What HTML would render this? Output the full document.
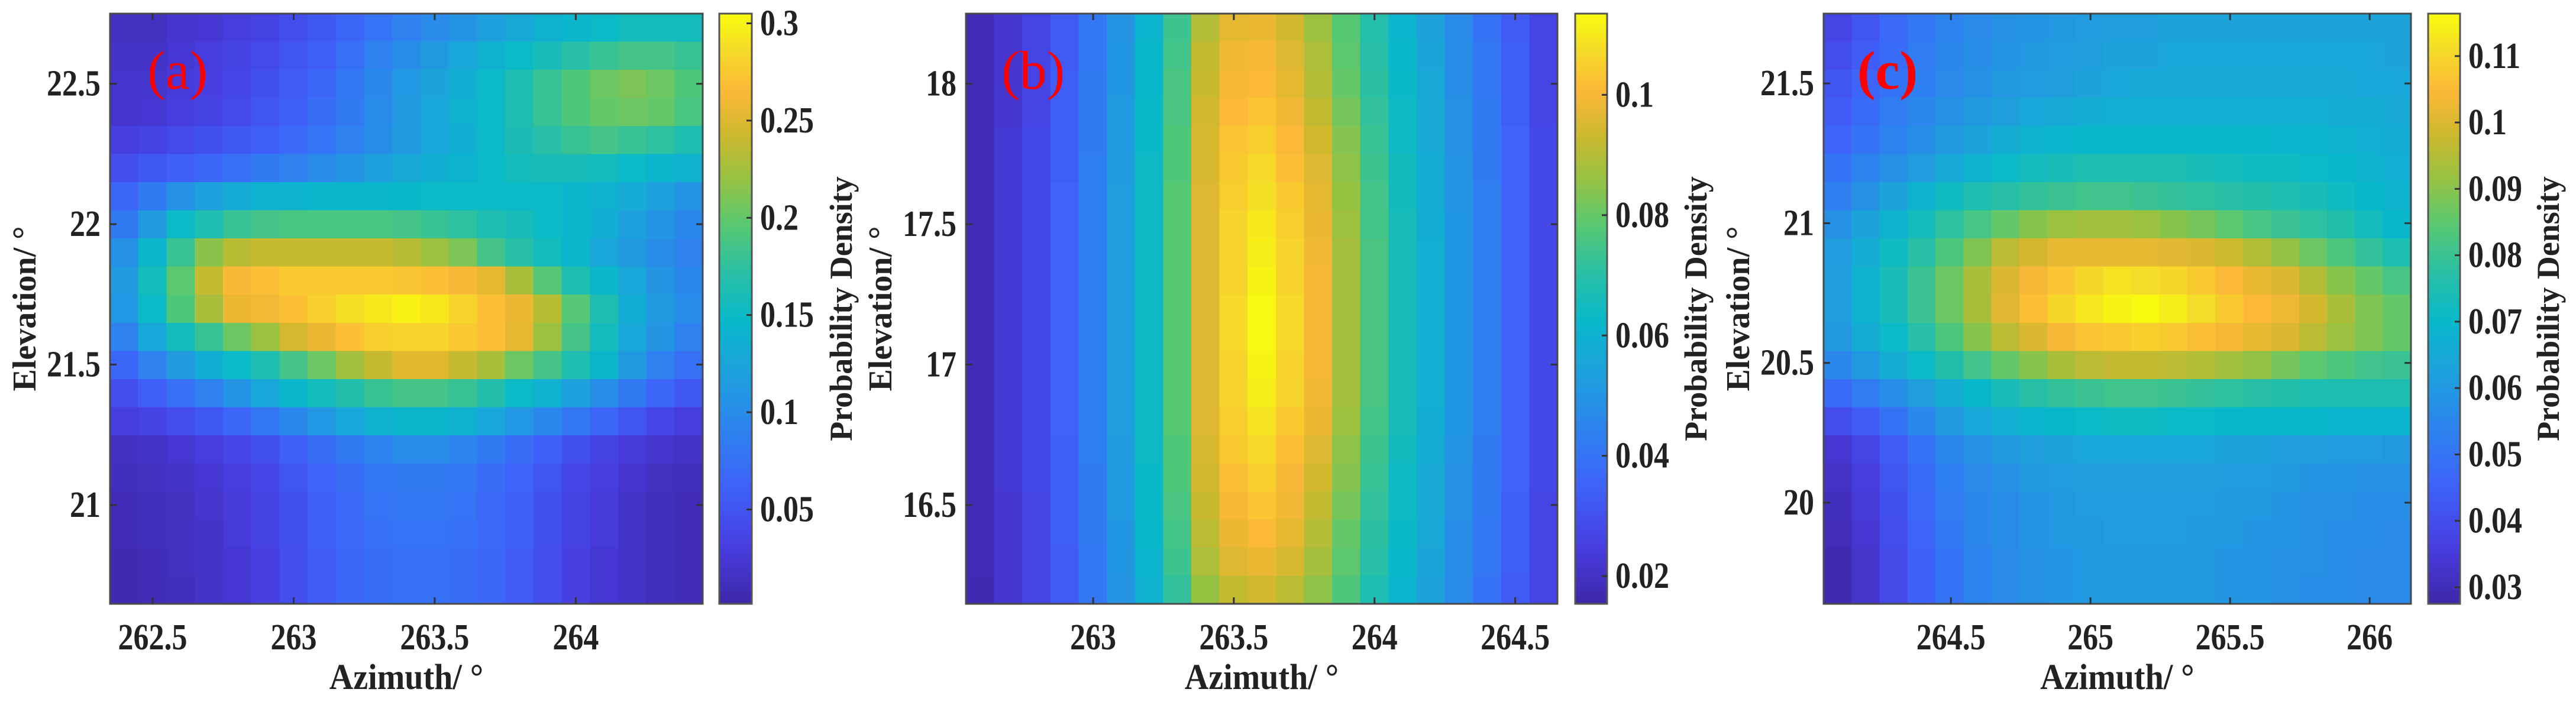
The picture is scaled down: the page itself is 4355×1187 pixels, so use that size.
<!DOCTYPE html>
<html><head><meta charset="utf-8">
<style>
html,body{margin:0;padding:0;background:#fff;}
svg{display:block;}
text{font-family:"Liberation Serif",serif;}
</style></head>
<body>
<svg id="fig" width="4355" height="1187" viewBox="0 0 4355 1187" xmlns="http://www.w3.org/2000/svg"></svg>
<script>
// ---------- Panel (a) data: rows top (high elevation) to bottom ----------
const aXTicks = [262.5, 263, 263.5, 264];
const aYTicks = [21, 21.5, 22, 22.5];
const aCTicks = [0.05, 0.1, 0.15, 0.2, 0.25, 0.3];
const aValues = [
[0.015,0.015,0.021,0.024,0.03,0.036,0.045,0.054,0.066,0.078,0.09,0.099,0.108,0.12,0.129,0.138,0.144,0.15,0.156,0.156,0.156],
[0.018,0.018,0.024,0.03,0.036,0.042,0.051,0.06,0.075,0.09,0.102,0.114,0.126,0.138,0.15,0.159,0.171,0.18,0.186,0.186,0.18],
[0.021,0.021,0.027,0.033,0.039,0.048,0.057,0.066,0.081,0.096,0.111,0.123,0.135,0.15,0.165,0.18,0.192,0.204,0.21,0.204,0.192],
[0.021,0.024,0.03,0.036,0.042,0.051,0.06,0.072,0.084,0.099,0.114,0.126,0.138,0.15,0.165,0.18,0.192,0.201,0.204,0.201,0.189],
[0.03,0.036,0.042,0.048,0.054,0.06,0.069,0.078,0.09,0.102,0.114,0.126,0.135,0.15,0.162,0.171,0.18,0.186,0.18,0.174,0.165],
[0.045,0.054,0.06,0.066,0.075,0.084,0.09,0.099,0.108,0.12,0.129,0.135,0.141,0.15,0.156,0.159,0.159,0.156,0.15,0.144,0.138],
[0.066,0.084,0.105,0.12,0.132,0.138,0.141,0.144,0.144,0.144,0.147,0.15,0.15,0.15,0.15,0.15,0.144,0.138,0.132,0.12,0.108],
[0.084,0.114,0.15,0.165,0.18,0.186,0.189,0.189,0.189,0.189,0.186,0.18,0.174,0.165,0.159,0.15,0.144,0.135,0.12,0.108,0.096],
[0.105,0.144,0.18,0.216,0.234,0.24,0.24,0.24,0.24,0.24,0.234,0.222,0.21,0.186,0.171,0.156,0.144,0.126,0.114,0.102,0.09],
[0.114,0.156,0.198,0.24,0.264,0.27,0.276,0.276,0.276,0.276,0.273,0.27,0.264,0.255,0.228,0.195,0.165,0.144,0.126,0.108,0.096],
[0.111,0.15,0.192,0.228,0.258,0.261,0.27,0.279,0.288,0.294,0.3,0.294,0.282,0.27,0.258,0.234,0.195,0.165,0.135,0.114,0.099],
[0.09,0.126,0.156,0.18,0.204,0.222,0.246,0.258,0.27,0.279,0.282,0.282,0.276,0.27,0.255,0.222,0.186,0.156,0.126,0.108,0.09],
[0.066,0.09,0.114,0.135,0.15,0.165,0.186,0.204,0.225,0.24,0.252,0.252,0.24,0.228,0.204,0.186,0.165,0.144,0.114,0.09,0.075],
[0.045,0.06,0.075,0.09,0.108,0.126,0.144,0.156,0.168,0.18,0.186,0.186,0.18,0.168,0.15,0.138,0.12,0.102,0.084,0.066,0.054],
[0.03,0.036,0.045,0.054,0.066,0.081,0.096,0.111,0.126,0.138,0.144,0.144,0.138,0.126,0.111,0.096,0.081,0.066,0.051,0.039,0.03],
[0.015,0.018,0.024,0.03,0.039,0.048,0.06,0.072,0.084,0.093,0.099,0.099,0.093,0.084,0.072,0.06,0.048,0.036,0.027,0.021,0.018],
[0.012,0.015,0.018,0.024,0.03,0.039,0.051,0.063,0.072,0.081,0.084,0.084,0.081,0.072,0.063,0.051,0.039,0.03,0.021,0.015,0.012],
[0.009,0.012,0.015,0.021,0.027,0.036,0.048,0.06,0.069,0.078,0.081,0.081,0.078,0.069,0.06,0.048,0.036,0.027,0.018,0.012,0.009],
[0.009,0.012,0.015,0.018,0.027,0.036,0.048,0.06,0.069,0.075,0.078,0.078,0.075,0.069,0.06,0.048,0.036,0.027,0.018,0.012,0.009],
[0.006,0.009,0.015,0.018,0.024,0.033,0.045,0.057,0.066,0.072,0.075,0.075,0.072,0.066,0.057,0.045,0.033,0.024,0.018,0.012,0.009],
[0.006,0.009,0.012,0.018,0.024,0.033,0.045,0.057,0.066,0.072,0.075,0.075,0.072,0.066,0.057,0.045,0.033,0.024,0.018,0.012,0.009]
];
// ---------- Panel (b) data ----------
const bXTicks = [263, 263.5, 264, 264.5];
const bYTicks = [16.5, 17, 17.5, 18];
const bCTicks = [0.02, 0.04, 0.06, 0.08, 0.1];
const bValues = [
[0.018,0.022,0.027,0.033,0.041,0.050,0.061,0.074,0.090,0.097,0.098,0.094,0.087,0.078,0.069,0.061,0.054,0.047,0.040,0.033,0.027],
[0.018,0.022,0.027,0.033,0.041,0.051,0.062,0.075,0.092,0.099,0.100,0.096,0.089,0.079,0.070,0.062,0.055,0.048,0.041,0.034,0.027],
[0.018,0.022,0.027,0.034,0.042,0.051,0.062,0.076,0.093,0.100,0.101,0.097,0.090,0.080,0.071,0.063,0.056,0.048,0.041,0.034,0.027],
[0.018,0.022,0.027,0.034,0.042,0.052,0.063,0.076,0.094,0.101,0.103,0.099,0.092,0.082,0.072,0.064,0.057,0.049,0.042,0.034,0.027],
[0.018,0.023,0.028,0.034,0.042,0.052,0.063,0.077,0.095,0.103,0.105,0.101,0.094,0.084,0.073,0.064,0.057,0.049,0.042,0.035,0.028],
[0.018,0.023,0.028,0.034,0.043,0.052,0.064,0.077,0.095,0.104,0.107,0.102,0.096,0.085,0.074,0.065,0.058,0.050,0.042,0.035,0.028],
[0.018,0.023,0.028,0.035,0.043,0.053,0.064,0.078,0.096,0.105,0.108,0.104,0.097,0.086,0.075,0.065,0.058,0.050,0.043,0.035,0.028],
[0.018,0.023,0.028,0.035,0.043,0.053,0.064,0.078,0.096,0.106,0.110,0.105,0.098,0.087,0.075,0.066,0.058,0.051,0.043,0.035,0.028],
[0.018,0.023,0.028,0.035,0.043,0.053,0.064,0.078,0.096,0.106,0.111,0.106,0.099,0.088,0.076,0.066,0.059,0.051,0.043,0.035,0.028],
[0.018,0.023,0.028,0.035,0.043,0.053,0.064,0.078,0.096,0.106,0.112,0.106,0.100,0.088,0.076,0.066,0.059,0.051,0.043,0.035,0.028],
[0.018,0.023,0.028,0.035,0.043,0.053,0.064,0.078,0.096,0.107,0.113,0.107,0.100,0.088,0.076,0.066,0.059,0.051,0.043,0.035,0.028],
[0.018,0.023,0.028,0.035,0.043,0.053,0.064,0.078,0.096,0.107,0.113,0.107,0.100,0.088,0.076,0.066,0.059,0.051,0.043,0.035,0.028],
[0.018,0.023,0.028,0.035,0.043,0.053,0.064,0.078,0.096,0.106,0.112,0.106,0.100,0.088,0.076,0.066,0.059,0.051,0.043,0.035,0.028],
[0.018,0.023,0.028,0.035,0.043,0.053,0.064,0.078,0.096,0.106,0.111,0.106,0.099,0.088,0.076,0.066,0.059,0.051,0.043,0.035,0.028],
[0.018,0.023,0.028,0.035,0.043,0.053,0.064,0.078,0.096,0.105,0.109,0.104,0.098,0.087,0.075,0.066,0.058,0.051,0.043,0.035,0.028],
[0.018,0.023,0.028,0.034,0.043,0.052,0.064,0.077,0.095,0.104,0.107,0.102,0.096,0.085,0.074,0.065,0.058,0.050,0.042,0.035,0.028],
[0.018,0.023,0.028,0.034,0.042,0.052,0.063,0.077,0.094,0.102,0.105,0.100,0.094,0.084,0.073,0.064,0.057,0.049,0.042,0.035,0.028],
[0.018,0.022,0.027,0.034,0.042,0.052,0.063,0.076,0.093,0.100,0.103,0.099,0.092,0.082,0.072,0.064,0.057,0.049,0.042,0.034,0.027],
[0.018,0.022,0.027,0.034,0.042,0.051,0.062,0.075,0.091,0.098,0.101,0.097,0.090,0.080,0.071,0.063,0.056,0.048,0.041,0.034,0.027],
[0.018,0.022,0.027,0.033,0.041,0.051,0.061,0.074,0.089,0.096,0.098,0.095,0.088,0.079,0.070,0.062,0.055,0.048,0.041,0.034,0.027],
[0.017,0.022,0.027,0.033,0.041,0.050,0.060,0.072,0.086,0.092,0.094,0.091,0.085,0.077,0.068,0.061,0.054,0.047,0.040,0.033,0.027]
];
// ---------- Panel (c) data ----------
const cXTicks = [264.5, 265, 265.5, 266];
const cYTicks = [20, 20.5, 21, 21.5];
const cCTicks = [0.03, 0.04, 0.05, 0.06, 0.07, 0.08, 0.09, 0.1, 0.11];
const cValues = [
[0.038,0.042,0.047,0.051,0.054,0.056,0.058,0.059,0.060,0.061,0.062,0.062,0.063,0.063,0.063,0.063,0.063,0.063,0.063,0.063,0.063],
[0.040,0.044,0.048,0.052,0.055,0.057,0.059,0.060,0.061,0.062,0.063,0.063,0.064,0.064,0.064,0.064,0.064,0.064,0.064,0.064,0.063],
[0.042,0.046,0.050,0.053,0.056,0.058,0.060,0.061,0.062,0.063,0.064,0.065,0.065,0.065,0.065,0.065,0.065,0.065,0.065,0.064,0.064],
[0.044,0.048,0.052,0.055,0.058,0.060,0.062,0.064,0.065,0.066,0.067,0.067,0.067,0.067,0.067,0.067,0.067,0.067,0.066,0.066,0.065],
[0.046,0.050,0.054,0.057,0.060,0.063,0.066,0.068,0.069,0.070,0.070,0.070,0.070,0.070,0.070,0.070,0.069,0.069,0.068,0.067,0.066],
[0.050,0.054,0.058,0.061,0.065,0.068,0.071,0.073,0.074,0.075,0.075,0.075,0.075,0.074,0.073,0.072,0.072,0.071,0.070,0.068,0.067],
[0.053,0.058,0.063,0.068,0.072,0.075,0.077,0.079,0.080,0.081,0.081,0.080,0.079,0.078,0.077,0.076,0.075,0.074,0.072,0.070,0.068],
[0.058,0.063,0.068,0.073,0.078,0.082,0.086,0.090,0.092,0.093,0.093,0.092,0.090,0.088,0.085,0.082,0.080,0.078,0.076,0.073,0.070],
[0.061,0.066,0.072,0.077,0.083,0.089,0.096,0.099,0.102,0.102,0.102,0.102,0.101,0.100,0.098,0.095,0.091,0.087,0.083,0.079,0.075],
[0.062,0.068,0.074,0.080,0.087,0.094,0.100,0.104,0.107,0.110,0.112,0.111,0.110,0.108,0.105,0.102,0.100,0.095,0.090,0.086,0.082],
[0.062,0.068,0.074,0.080,0.087,0.094,0.101,0.106,0.110,0.113,0.115,0.116,0.114,0.111,0.108,0.105,0.103,0.099,0.094,0.089,0.086],
[0.060,0.066,0.071,0.077,0.083,0.090,0.096,0.100,0.104,0.107,0.108,0.109,0.108,0.106,0.104,0.102,0.100,0.096,0.092,0.089,0.086],
[0.055,0.060,0.066,0.071,0.076,0.081,0.086,0.090,0.094,0.096,0.097,0.097,0.096,0.095,0.093,0.091,0.088,0.085,0.083,0.081,0.080],
[0.048,0.052,0.057,0.062,0.066,0.070,0.074,0.077,0.079,0.080,0.081,0.081,0.080,0.079,0.078,0.077,0.076,0.075,0.075,0.075,0.075],
[0.040,0.044,0.050,0.055,0.060,0.064,0.067,0.069,0.070,0.071,0.072,0.072,0.071,0.071,0.070,0.070,0.070,0.070,0.069,0.069,0.069],
[0.034,0.038,0.044,0.050,0.055,0.058,0.060,0.062,0.063,0.064,0.064,0.064,0.064,0.064,0.063,0.063,0.062,0.062,0.061,0.061,0.060],
[0.032,0.036,0.042,0.048,0.053,0.056,0.058,0.060,0.061,0.062,0.062,0.062,0.062,0.062,0.061,0.061,0.060,0.059,0.059,0.058,0.058],
[0.031,0.035,0.041,0.047,0.052,0.055,0.057,0.059,0.060,0.061,0.061,0.061,0.061,0.061,0.060,0.060,0.059,0.058,0.058,0.057,0.057],
[0.030,0.034,0.040,0.046,0.051,0.055,0.057,0.059,0.060,0.060,0.061,0.061,0.061,0.060,0.060,0.059,0.059,0.058,0.057,0.057,0.056],
[0.029,0.033,0.039,0.045,0.050,0.054,0.056,0.058,0.059,0.060,0.060,0.060,0.060,0.060,0.059,0.059,0.058,0.058,0.057,0.056,0.056],
[0.029,0.033,0.039,0.045,0.050,0.054,0.056,0.058,0.059,0.060,0.060,0.060,0.060,0.060,0.059,0.059,0.058,0.057,0.057,0.056,0.056]
];

const NS = "http://www.w3.org/2000/svg";
const svg = document.getElementById('fig');
const STOPS = [
 [0.00,[62,38,168]],[0.10,[71,62,225]],[0.20,[62,98,250]],[0.30,[44,132,238]],
 [0.40,[28,163,218]],[0.48,[8,184,202]],[0.56,[40,191,166]],[0.64,[86,200,115]],
 [0.72,[150,194,66]],[0.80,[208,184,44]],[0.87,[252,184,56]],[0.94,[245,220,40]],[1.00,[249,251,14]]
];
function parula(t){
  t = Math.max(0, Math.min(1, t));
  for (let i = 1; i < STOPS.length; i++) {
    if (t <= STOPS[i][0]) {
      const a = STOPS[i-1], b = STOPS[i];
      const f = (t - a[0]) / (b[0] - a[0]);
      const c = a[1].map((v, k) => Math.round(v + (b[1][k] - v) * f));
      return `rgb(${c[0]},${c[1]},${c[2]})`;
    }
  }
  return 'rgb(249,251,14)';
}
function mk(tag, attrs, parent){
  const e = document.createElementNS(NS, tag);
  for (const k in attrs) e.setAttribute(k, attrs[k]);
  (parent || svg).appendChild(e);
  return e;
}
const SY = 1.2;
function stretch(y, s){ return `translate(0 ${y}) scale(1 ${s}) translate(0 ${-y})`; }

function panel(cfg){
  const g = mk('g', {});
  
  
  const xS = v => cfg.px0 + (v - cfg.xmin) / (cfg.xmax - cfg.xmin) * (cfg.px1 - cfg.px0);
  const yS = v => cfg.py1 - (v - cfg.ymin) / (cfg.ymax - cfg.ymin) * (cfg.py1 - cfg.py0);
  const cS = v => cfg.py1 - (v - cfg.cmin) / (cfg.cmax - cfg.cmin) * (cfg.py1 - cfg.py0);
  const rows = cfg.values.length, cols = cfg.values[0].length;
  const dx = (cfg.xmax - cfg.xmin) / cols, dy = (cfg.ymax - cfg.ymin) / rows;
  const hg = mk('g', {'shape-rendering':'crispEdges'}, g);
  
  
  for (let r = 0; r < rows; r++) {
    for (let c = 0; c < cols; c++) {
      const v = cfg.values[r][c];
      const x0 = xS(cfg.xmin + c*dx), x1 = xS(cfg.xmin + (c+1)*dx);
      const yTop = yS(cfg.ymax - r*dy), yBot = yS(cfg.ymax - (r+1)*dy);
      const rect = mk('rect', {x:x0, y:yTop, width:x1-x0+0.6, height:yBot-yTop+0.6,
        fill: parula((v - cfg.cmin)/(cfg.cmax - cfg.cmin))}, hg);
      
      
    }
  }
  const box = mk('rect', {x:cfg.px0, y:cfg.py0, width:cfg.px1-cfg.px0, height:cfg.py1-cfg.py0, fill:'none', stroke:'#4a4a4a', 'stroke-width':3}, g);
  
  
  const tick = 11;
  cfg.xticks.forEach(t => {
    const x = xS(t);
    mk('line', {x1:x, y1:cfg.py1, x2:x, y2:cfg.py1-tick, stroke:'#333', 'stroke-width':3}, g);
    mk('line', {x1:x, y1:cfg.py0, x2:x, y2:cfg.py0+tick, stroke:'#333', 'stroke-width':3}, g);
    const by = 1098;
    const tx = mk('text', {x:x, y:by, 'text-anchor':'middle', 'font-size':52, 'font-weight':'bold', fill:'#222', transform:stretch(by, SY)}, g);
    tx.textContent = String(t);
    
    
  });
  cfg.yticks.forEach(t => {
    const y = yS(t);
    mk('line', {x1:cfg.px0, y1:y, x2:cfg.px0+tick, y2:y, stroke:'#333', 'stroke-width':3}, g);
    mk('line', {x1:cfg.px1, y1:y, x2:cfg.px1-tick, y2:y, stroke:'#333', 'stroke-width':3}, g);
    const by = y + 20;
    const ty = mk('text', {x:cfg.px0-16, y:by, 'text-anchor':'end', 'font-size':52, 'font-weight':'bold', fill:'#222', transform:stretch(by, SY)}, g);
    ty.textContent = String(t);
    
    
  });
  const xby = 1165;
  const xt = mk('text', {x:(cfg.px0+cfg.px1)/2, y:xby, 'text-anchor':'middle', 'font-size':56, 'font-weight':'bold', fill:'#222', transform:stretch(xby, 1.1)}, g);
  xt.textContent = 'Azimuth/ °';
  
  
  const yx = cfg.px0 - 144, yy = (cfg.py0+cfg.py1)/2;
  const yt = mk('text', {x:yx, y:yy, 'text-anchor':'middle', 'font-size':56, 'font-weight':'bold', fill:'#222', transform:`rotate(-90 ${yx} ${yy})`, 'dominant-baseline':'central'}, g);
  yt.textContent = 'Elevation/ °';
  
  
  const pl = mk('text', {x:cfg.lx, y:150, 'font-size':92, fill:'#ff0000', 'font-weight':cfg.lbold?'bold':'normal'}, g);
  pl.textContent = '(' + cfg.id + ')';
  
  
  const cb = mk('g', {'shape-rendering':'crispEdges'}, g);
  
  
  const n = 200, h = (cfg.py1 - cfg.py0) / n;
  for (let i = 0; i < n; i++) {
    mk('rect', {x:cfg.cb0, y:cfg.py1 - (i+1)*h, width:cfg.cb1-cfg.cb0, height:h+0.8, fill:parula((i+0.5)/n)}, cb);
  }
  mk('rect', {x:cfg.cb0, y:cfg.py0, width:cfg.cb1-cfg.cb0, height:cfg.py1-cfg.py0, fill:'none', stroke:'#555', 'stroke-width':3}, g);
  cfg.cticks.forEach(t => {
    const y = cS(t);
    mk('line', {x1:cfg.cb1, y1:y, x2:cfg.cb1-9, y2:y, stroke:'#333', 'stroke-width':3}, g);
    const by = y + 20;
    const ct = mk('text', {x:cfg.cb1+14, y:by, 'font-size':52, 'font-weight':'bold', fill:'#222', transform:stretch(by, SY)}, g);
    ct.textContent = String(t);
    
    
  });
  const cx = cfg.ctx, cy = (cfg.py0+cfg.py1)/2;
  const ctt = mk('text', {x:cx, y:cy, 'text-anchor':'middle', 'font-size':54, 'font-weight':'bold', fill:'#222', transform:`rotate(-90 ${cx} ${cy})`, 'dominant-baseline':'central'}, g);
  ctt.textContent = 'Probability Density';
  
  
}

panel({id:'a', px0:186, px1:1188, py0:23, py1:1021, xmin:262.349, xmax:264.45, ymin:20.648, ymax:22.75,
  cmin:0.0015, cmax:0.305, cb0:1216, cb1:1271, ctx:1422, lx:249, lbold:false,
  values:aValues, xticks:aXTicks, yticks:aYTicks, cticks:aCTicks});
panel({id:'b', px0:1633, px1:2633, py0:23, py1:1021, xmin:262.548, xmax:264.65, ymin:16.148, ymax:18.25,
  cmin:0.0154, cmax:0.1135, cb0:2663, cb1:2717, ctx:2867, lx:1693, lbold:false,
  values:bValues, xticks:bXTicks, yticks:bYTicks, cticks:bCTicks});
panel({id:'c', px0:3083, px1:4076, py0:23, py1:1021, xmin:264.044, xmax:266.148, ymin:19.638, ymax:21.75,
  cmin:0.0275, cmax:0.1164, cb0:4105, cb1:4159, ctx:4308, lx:3140, lbold:true,
  values:cValues, xticks:cXTicks, yticks:cYTicks, cticks:cCTicks});
</script>
</body></html>
